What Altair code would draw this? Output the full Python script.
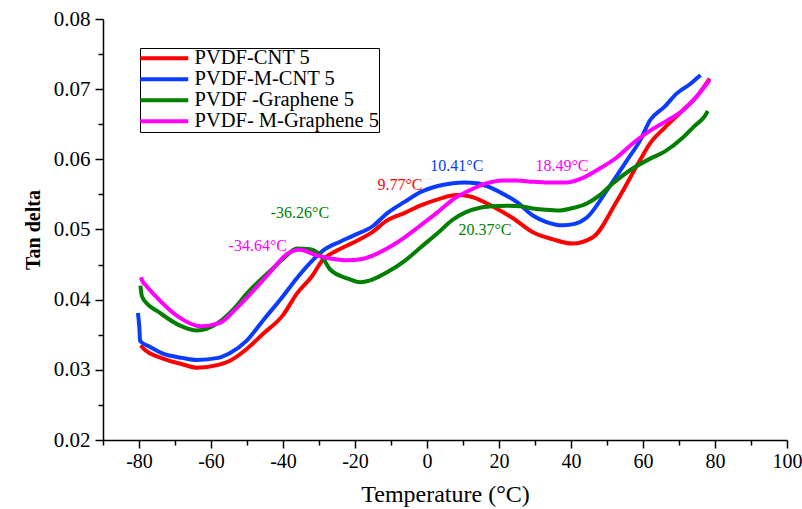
import altair as alt
import pandas as pd

names = ["PVDF-CNT 5", "PVDF-M-CNT 5", "PVDF -Graphene 5", "PVDF- M-Graphene 5"]
colors = ["#ff0000", "#0a3cff", "#007f00", "#ff00ff"]

red_T = [-79.5, -78.9, -73.3, -68, -63.9, -58, -54.7, -50, -45.6, -40, -36.1, -32, -28.9, -25, -20.6,
         -15, -11.1, -6, -1.9, 3, 8.3, 12, 16.7, 20.3, 23.9, 29.4, 35, 40.3, 46.1, 52.8, 59.2, 62, 66,
         71.1, 75, 78.5]
red_v = [0.0335, 0.0331, 0.0316, 0.0308, 0.0303, 0.0307, 0.0313, 0.0330, 0.0351, 0.0378, 0.0409, 0.0433,
         0.0457, 0.0470, 0.0481, 0.0497, 0.0513, 0.0524, 0.0534, 0.0543, 0.0549, 0.0547, 0.0537, 0.0527,
         0.0516, 0.0496, 0.0486, 0.0480, 0.0489, 0.0541, 0.0599, 0.0623, 0.0645, 0.0670, 0.0690, 0.0715]

blue_T = [-80.3, -79.9, -79.7, -77, -73.3, -68, -63.9, -58, -54.7, -50, -45.6, -40, -36.1, -32, -28.9,
          -24, -20.6, -15, -11.1, -6, -1.9, 3, 7.2, 10.4, 13.9, 17, 20.3, 25, 29.4, 33, 37.8, 41, 44.4,
          50, 55.6, 59.2, 62, 66, 69.4, 73, 75.3, 76]
blue_v = [0.0381, 0.0360, 0.0341, 0.0333, 0.0323, 0.0317, 0.0314, 0.0317, 0.0324, 0.0342, 0.0370, 0.0405,
          0.0431, 0.0455, 0.0470, 0.0483, 0.0491, 0.0505, 0.0523, 0.0540, 0.0553, 0.0562, 0.0566, 0.0567,
          0.0566, 0.0561, 0.0553, 0.0539, 0.0520, 0.0511, 0.0506, 0.0508, 0.0517, 0.0556, 0.0599, 0.0627,
          0.0656, 0.0675, 0.0694, 0.0707, 0.0717, 0.0720]

green_T = [-79.6, -79.2, -77.5, -75, -68.6, -63.9, -58.3, -54, -50, -43.6, -40, -36.1, -32.5, -28.9, -26.9,
           -22, -18.6, -15, -11.1, -6, -1.9, 3, 7.2, 10.5, 14.7, 18, 22.2, 26, 29.4, 33, 36.9, 40, 44.4,
           48, 51.7, 56, 62, 66, 71.1, 74, 77.2, 78]
green_v = [0.0420, 0.0405, 0.0393, 0.0384, 0.0363, 0.0356, 0.0366, 0.0385, 0.0409, 0.0441, 0.0458, 0.0473,
           0.0472, 0.0459, 0.0443, 0.0430, 0.0425, 0.0429, 0.0439, 0.0456, 0.0474, 0.0495, 0.0514, 0.0524,
           0.0531, 0.0533, 0.0534, 0.0533, 0.0530, 0.0528, 0.0527, 0.0530, 0.0537, 0.0549, 0.0566, 0.0583,
           0.0601, 0.0611, 0.0631, 0.0646, 0.0662, 0.0669]

mag_T = [-79.4, -79.2, -78, -75, -68.6, -63, -57.5, -54, -50, -43.6, -38.9, -35.3, -30.6, -26, -22.2, -18,
         -15, -10, -6.7, -2, 2.8, 7, 11.9, 16, 21.1, 25, 29.4, 34, 38.9, 43, 48, 52.8, 57.2, 62, 66, 71.1,
         75, 78.5]
mag_v = [0.0432, 0.0428, 0.0420, 0.0403, 0.0374, 0.0362, 0.0367, 0.0382, 0.0403, 0.0439, 0.0465, 0.0471,
         0.0463, 0.0458, 0.0456, 0.0458, 0.0463, 0.0476, 0.0487, 0.0505, 0.0524, 0.0542, 0.0556, 0.0565,
         0.0570, 0.0570, 0.0568, 0.0567, 0.0567, 0.0573, 0.0587, 0.0603, 0.0623, 0.0641, 0.0653, 0.0670,
         0.0690, 0.0713]

ann_text = ["9.77°C", "10.41°C", "-36.26°C", "20.37°C", "-34.64°C", "18.49°C"]
ann_series = [0, 1, 2, 2, 3, 3]
ann_T = [-7.5, 8.3, -35.3, 16.1, -47.0, 37.5]
ann_v = [0.0563, 0.0590, 0.0524, 0.0499, 0.0476, 0.0591]

x_ticks = list(range(-90, 101, 10))
y_ticks = [round(0.02 + 0.005 * i, 3) for i in range(13)]

frames = []
for nm, T, v in zip(names, [red_T, blue_T, green_T, mag_T], [red_v, blue_v, green_v, mag_v]):
    frames.append(pd.DataFrame({"series": nm, "T": T, "tan": v}))
df = pd.concat(frames, ignore_index=True)

FONT = "Liberation Serif"

xscale = alt.Scale(domain=[-90, 100], nice=False)
yscale = alt.Scale(domain=[0.02, 0.08], nice=False, zero=False)

XMAJ = "abs(round(datum.value)) % 20 == 0"
YMAJ = "round(datum.value * 1000) % 10 == 0"

xaxis = alt.Axis(
    values=x_ticks, title="Temperature (°C)", grid=False,
    labelExpr=XMAJ + " ? ('' + datum.value) : ''",
    tickSize={"condition": {"test": XMAJ, "value": 8}, "value": 5},
    labelFlush=False, labelOverlap=False, labelFont=FONT, labelFontSize=20, labelColor="black",
    labelPadding=3, titleFont=FONT, titleFontSize=24, titleFontWeight="normal", titleColor="black",
    titlePadding=11, domainColor="black", domainWidth=1.5, tickColor="black", tickWidth=1.5,
)
yaxis = alt.Axis(
    values=y_ticks, title="Tan delta", grid=False, format=".2f",
    labelExpr=YMAJ + " ? datum.label : ''",
    tickSize={"condition": {"test": YMAJ, "value": 8}, "value": 5},
    labelFlush=False, labelOverlap=False, labelFont=FONT, labelFontSize=21, labelColor="black",
    labelPadding=5, titleFont=FONT, titleFontSize=20, titleFontWeight="bold", titleColor="black",
    titlePadding=10, domainColor="black", domainWidth=1.5, tickColor="black", tickWidth=1.5,
)

lines = alt.Chart(df).mark_line(strokeWidth=4, interpolate="monotone").encode(
    x=alt.X("T:Q", scale=xscale, axis=xaxis, title="Temperature (°C)"),
    y=alt.Y("tan:Q", scale=yscale, axis=yaxis, title="Tan delta"),
    color=alt.Color(
        "series:N",
        scale=alt.Scale(domain=names, range=colors),
        sort=names,
        legend=alt.Legend(
            orient="none", legendX=37, legendY=29, title=None,
            symbolType="M-3,0H3", symbolSize=256, symbolOffset=14,
            symbolStrokeWidth=4, labelFont=FONT, labelFontSize=20.5, labelLimit=400,
            labelColor="black", strokeColor="black", padding=0, rowPadding=-1, labelOffset=20,
            fillColor="white", cornerRadius=0,
        ),
    ),
)

layers = [lines]
for i, nm in enumerate(names):
    sub = pd.DataFrame({
        "label": [t for t, s in zip(ann_text, ann_series) if s == i],
        "T": [t for t, s in zip(ann_T, ann_series) if s == i],
        "tan": [t for t, s in zip(ann_v, ann_series) if s == i],
    })
    layers.append(
        alt.Chart(sub).mark_text(font=FONT, fontSize=16, color=colors[i], align="center",
                                 baseline="middle").encode(
            x=alt.X("T:Q", scale=xscale, axis=xaxis, title="Temperature (°C)"),
            y=alt.Y("tan:Q", scale=yscale, axis=yaxis, title="Tan delta"),
            text="label:N",
        )
    )

chart = alt.layer(*layers).properties(
    width=684, height=421,
    autosize=alt.AutoSizeParams(type="none"),
    padding={"left": 103, "top": 19, "right": 15, "bottom": 69},
    background="white",
).configure_view(stroke=None)

chart.save("out.html", embed_options={"renderer": "svg", "actions": False})
